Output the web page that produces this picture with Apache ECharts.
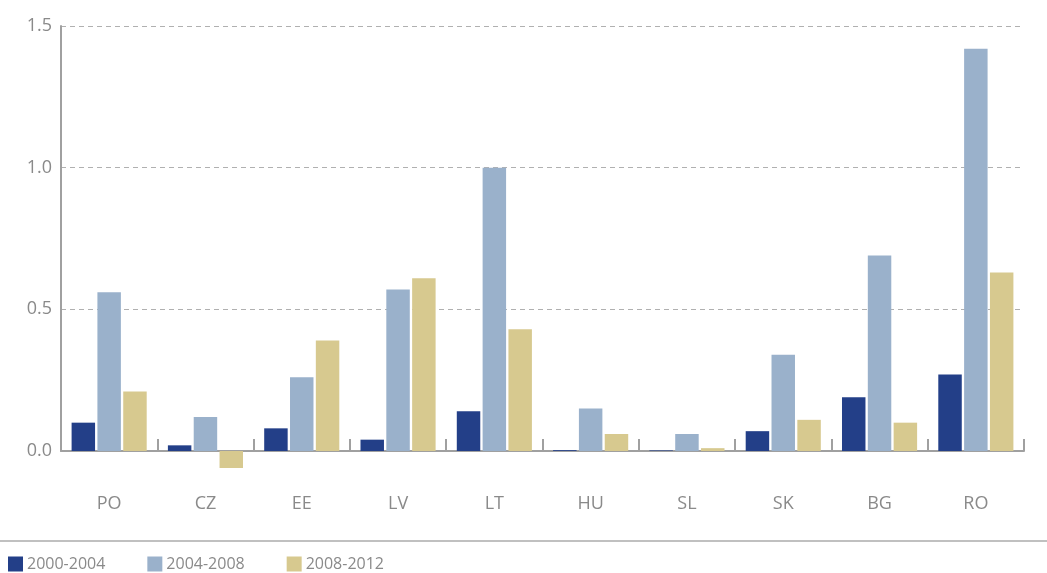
<!DOCTYPE html>
<html>
<head>
<meta charset="utf-8">
<script src="https://cdn.jsdelivr.net/npm/echarts@6/dist/echarts.min.js"></script>
<style>
  html, body { margin: 0; padding: 0; background: #fff; }
  #chart { width: 1047px; height: 573px; }
</style>
</head>
<body>
<div id="chart"></div>
<script>
// 国家
let countries = ['PO', 'CZ', 'EE', 'LV', 'LT', 'HU', 'SL', 'SK', 'BG', 'RO'];
// 三个时期
let periods = ['2000-2004', '2004-2008', '2008-2012'];
let v2000 = [0.10, 0.02, 0.08, 0.04, 0.14, 0.003, 0.002, 0.07, 0.19, 0.27];
let v2004 = [0.56, 0.12, 0.26, 0.57, 1.00, 0.15, 0.06, 0.34, 0.69, 1.42];
let v2008 = [0.21, -0.06, 0.39, 0.61, 0.43, 0.06, 0.01, 0.11, 0.10, 0.63];
let colors = ['#233f88', '#9ab1cb', '#d7c98f'];

let chart = echarts.init(document.getElementById('chart'));
let font = '"Open Sans", "Noto Sans", sans-serif';

function bar(name, data, color) {
    return {
        name: name,
        type: 'bar',
        data: data,
        clip: false,
        barGap: '10%',
        barCategoryGap: '22%',
        itemStyle: { color: color },
        emphasis: { disabled: true }
    };
}

let option = {
    animation: false,
    textStyle: { fontFamily: font },
    grid: { left: 61, right: 23, top: 26, bottom: 122 },
    legend: {
        left: 8,
        top: 556,
        padding: 0,
        itemWidth: 15,
        itemHeight: 15,
        itemGap: 42,
        icon: 'rect',
        data: periods,
        textStyle: { color: '#8a8a8a', fontSize: 16, fontFamily: font, padding: [0, 0, 0, -1] }
    },
    xAxis: {
        type: 'category',
        data: countries,
        axisLine: { lineStyle: { color: '#a0a0a0', width: 2 } },
        axisTick: { show: true, inside: true, length: 12, lineStyle: { color: '#a0a0a0', width: 2 } },
        axisLabel: { color: '#8a8a8a', fontSize: 18, margin: 44 }
    },
    yAxis: {
        type: 'value',
        min: 0,
        max: 1.5,
        interval: 0.5,
        axisLine: { show: true, lineStyle: { color: '#a0a0a0', width: 2 } },
        axisTick: { show: false },
        axisLabel: {
            color: '#8a8a8a',
            fontSize: 18,
            margin: 9,
            formatter: function (v) { return v.toFixed(1); }
        },
        splitLine: { lineStyle: { color: '#b0b0b0', type: [5, 4], width: 1 } }
    },
    graphic: [{
        type: 'line',
        shape: { x1: 0, y1: 541, x2: 1047, y2: 541 },
        style: { stroke: '#c0c0c0', lineWidth: 2 }
    }],
    series: [
        bar(periods[0], v2000, colors[0]),
        bar(periods[1], v2004, colors[1]),
        bar(periods[2], v2008, colors[2])
    ]
};
chart.setOption(option);
</script>
</body>
</html>
